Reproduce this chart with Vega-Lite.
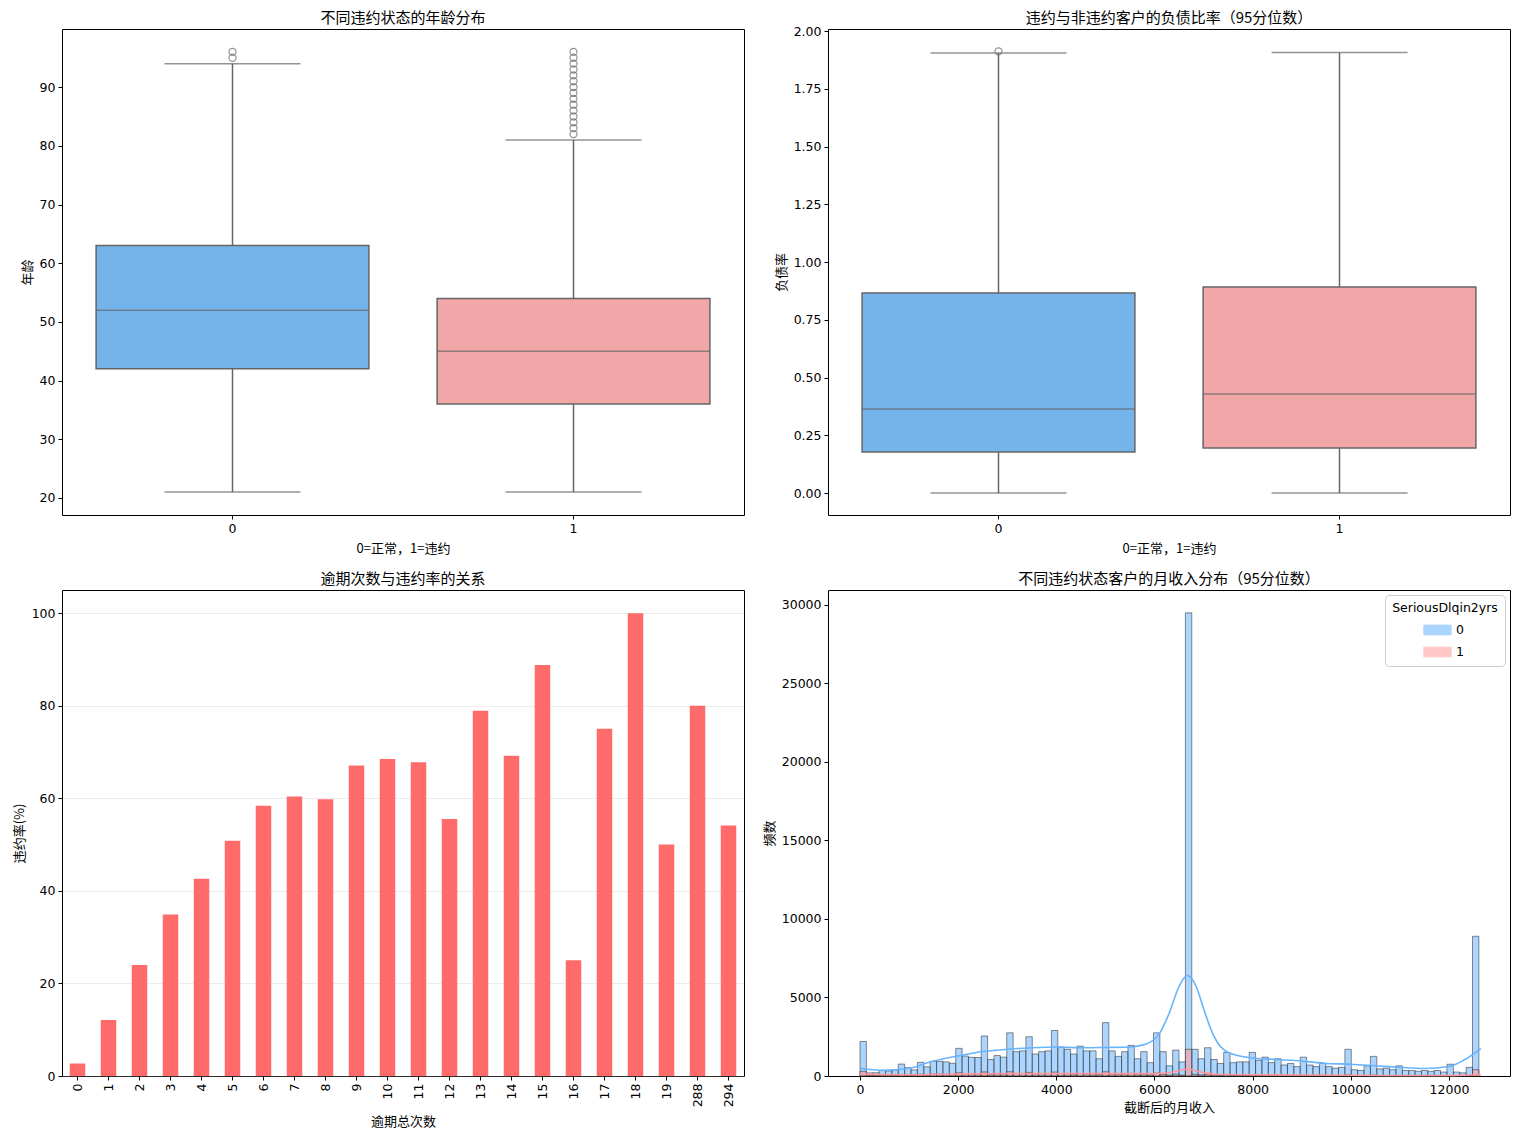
{
  "$schema": "https://vega.github.io/schema/vega-lite/v6.json",
  "padding": {"top": 10, "left": 12, "right": 5, "bottom": 5},
  "background": "white",
  "datasets": {
    "ageBox": [
      {"grp": "0", "lo": 21, "q1": 42, "med": 52, "q3": 63, "hi": 94},
      {"grp": "1", "lo": 21, "q1": 36, "med": 45, "q3": 54, "hi": 81}
    ],
    "ageOut": [
      {"grp": "0", "v": 95}, {"grp": "0", "v": 96},
      {"grp": "1", "v": 82}, {"grp": "1", "v": 83}, {"grp": "1", "v": 84}, {"grp": "1", "v": 85},
      {"grp": "1", "v": 86}, {"grp": "1", "v": 87}, {"grp": "1", "v": 88}, {"grp": "1", "v": 89},
      {"grp": "1", "v": 90}, {"grp": "1", "v": 91}, {"grp": "1", "v": 92}, {"grp": "1", "v": 93},
      {"grp": "1", "v": 94}, {"grp": "1", "v": 95}, {"grp": "1", "v": 96}
    ],
    "debtBox": [
      {"grp": "0", "lo": 0, "q1": 0.177, "med": 0.364, "q3": 0.866, "hi": 1.905},
      {"grp": "1", "lo": 0, "q1": 0.195, "med": 0.429, "q3": 0.892, "hi": 1.907}
    ],
    "debtOut": [
      {"grp": "0", "v": 1.912}
    ],
    "lateRate": [
      {"k": "0", "rate": 2.7}, {"k": "1", "rate": 12.1}, {"k": "2", "rate": 24.0},
      {"k": "3", "rate": 34.9}, {"k": "4", "rate": 42.6}, {"k": "5", "rate": 50.8},
      {"k": "6", "rate": 58.4}, {"k": "7", "rate": 60.4}, {"k": "8", "rate": 59.8},
      {"k": "9", "rate": 67.1}, {"k": "10", "rate": 68.5}, {"k": "11", "rate": 67.8},
      {"k": "12", "rate": 55.5}, {"k": "13", "rate": 78.9}, {"k": "14", "rate": 69.2},
      {"k": "15", "rate": 88.8}, {"k": "16", "rate": 25.0}, {"k": "17", "rate": 75.0},
      {"k": "18", "rate": 100.0}, {"k": "19", "rate": 50.0}, {"k": "288", "rate": 80.0},
      {"k": "294", "rate": 54.1}
    ],
    "incomeHist": [
      {"g": "0", "lo": 0, "hi": 130, "n": 2200}, {"g": "0", "lo": 130, "hi": 260, "n": 200},
      {"g": "0", "lo": 260, "hi": 390, "n": 210}, {"g": "0", "lo": 390, "hi": 520, "n": 360},
      {"g": "0", "lo": 520, "hi": 650, "n": 320}, {"g": "0", "lo": 650, "hi": 780, "n": 390},
      {"g": "0", "lo": 780, "hi": 910, "n": 760}, {"g": "0", "lo": 910, "hi": 1040, "n": 530},
      {"g": "0", "lo": 1040, "hi": 1170, "n": 390}, {"g": "0", "lo": 1170, "hi": 1300, "n": 870},
      {"g": "0", "lo": 1300, "hi": 1430, "n": 590}, {"g": "0", "lo": 1430, "hi": 1560, "n": 935},
      {"g": "0", "lo": 1560, "hi": 1690, "n": 935}, {"g": "0", "lo": 1690, "hi": 1820, "n": 900},
      {"g": "0", "lo": 1820, "hi": 1950, "n": 810}, {"g": "0", "lo": 1950, "hi": 2080, "n": 1760},
      {"g": "0", "lo": 2080, "hi": 2210, "n": 1270}, {"g": "0", "lo": 2210, "hi": 2340, "n": 1190},
      {"g": "0", "lo": 2340, "hi": 2470, "n": 1180}, {"g": "0", "lo": 2470, "hi": 2600, "n": 2550},
      {"g": "0", "lo": 2600, "hi": 2730, "n": 1050}, {"g": "0", "lo": 2730, "hi": 2860, "n": 1300},
      {"g": "0", "lo": 2860, "hi": 2990, "n": 1200}, {"g": "0", "lo": 2990, "hi": 3120, "n": 2750},
      {"g": "0", "lo": 3120, "hi": 3250, "n": 1550}, {"g": "0", "lo": 3250, "hi": 3380, "n": 1600},
      {"g": "0", "lo": 3380, "hi": 3510, "n": 2500}, {"g": "0", "lo": 3510, "hi": 3640, "n": 1400},
      {"g": "0", "lo": 3640, "hi": 3770, "n": 1550}, {"g": "0", "lo": 3770, "hi": 3900, "n": 1600},
      {"g": "0", "lo": 3900, "hi": 4030, "n": 2900}, {"g": "0", "lo": 4030, "hi": 4160, "n": 1850},
      {"g": "0", "lo": 4160, "hi": 4290, "n": 1700}, {"g": "0", "lo": 4290, "hi": 4420, "n": 1400},
      {"g": "0", "lo": 4420, "hi": 4550, "n": 1900}, {"g": "0", "lo": 4550, "hi": 4680, "n": 1600},
      {"g": "0", "lo": 4680, "hi": 4810, "n": 1600}, {"g": "0", "lo": 4810, "hi": 4940, "n": 1100},
      {"g": "0", "lo": 4940, "hi": 5070, "n": 3400}, {"g": "0", "lo": 5070, "hi": 5200, "n": 1600},
      {"g": "0", "lo": 5200, "hi": 5330, "n": 1250}, {"g": "0", "lo": 5330, "hi": 5460, "n": 1550},
      {"g": "0", "lo": 5460, "hi": 5590, "n": 1950}, {"g": "0", "lo": 5590, "hi": 5720, "n": 1100},
      {"g": "0", "lo": 5720, "hi": 5850, "n": 1550}, {"g": "0", "lo": 5850, "hi": 5980, "n": 850},
      {"g": "0", "lo": 5980, "hi": 6110, "n": 2750}, {"g": "0", "lo": 6110, "hi": 6240, "n": 1550},
      {"g": "0", "lo": 6240, "hi": 6370, "n": 650}, {"g": "0", "lo": 6370, "hi": 6500, "n": 1650},
      {"g": "0", "lo": 6500, "hi": 6630, "n": 900}, {"g": "0", "lo": 6630, "hi": 6760, "n": 29500},
      {"g": "0", "lo": 6760, "hi": 6890, "n": 1700}, {"g": "0", "lo": 6890, "hi": 7020, "n": 1100},
      {"g": "0", "lo": 7020, "hi": 7150, "n": 1800}, {"g": "0", "lo": 7150, "hi": 7280, "n": 1050},
      {"g": "0", "lo": 7280, "hi": 7410, "n": 800}, {"g": "0", "lo": 7410, "hi": 7540, "n": 1500},
      {"g": "0", "lo": 7540, "hi": 7670, "n": 850}, {"g": "0", "lo": 7670, "hi": 7800, "n": 900},
      {"g": "0", "lo": 7800, "hi": 7930, "n": 900}, {"g": "0", "lo": 7930, "hi": 8060, "n": 1500},
      {"g": "0", "lo": 8060, "hi": 8190, "n": 1000}, {"g": "0", "lo": 8190, "hi": 8320, "n": 1200},
      {"g": "0", "lo": 8320, "hi": 8450, "n": 850}, {"g": "0", "lo": 8450, "hi": 8580, "n": 1100},
      {"g": "0", "lo": 8580, "hi": 8710, "n": 700}, {"g": "0", "lo": 8710, "hi": 8840, "n": 800},
      {"g": "0", "lo": 8840, "hi": 8970, "n": 600}, {"g": "0", "lo": 8970, "hi": 9100, "n": 1200},
      {"g": "0", "lo": 9100, "hi": 9230, "n": 700}, {"g": "0", "lo": 9230, "hi": 9360, "n": 600},
      {"g": "0", "lo": 9360, "hi": 9490, "n": 800}, {"g": "0", "lo": 9490, "hi": 9620, "n": 600},
      {"g": "0", "lo": 9620, "hi": 9750, "n": 500}, {"g": "0", "lo": 9750, "hi": 9880, "n": 550},
      {"g": "0", "lo": 9880, "hi": 10010, "n": 1700}, {"g": "0", "lo": 10010, "hi": 10140, "n": 400},
      {"g": "0", "lo": 10140, "hi": 10270, "n": 350}, {"g": "0", "lo": 10270, "hi": 10400, "n": 650},
      {"g": "0", "lo": 10400, "hi": 10530, "n": 1250}, {"g": "0", "lo": 10530, "hi": 10660, "n": 450},
      {"g": "0", "lo": 10660, "hi": 10790, "n": 500}, {"g": "0", "lo": 10790, "hi": 10920, "n": 400},
      {"g": "0", "lo": 10920, "hi": 11050, "n": 650}, {"g": "0", "lo": 11050, "hi": 11180, "n": 350},
      {"g": "0", "lo": 11180, "hi": 11310, "n": 350}, {"g": "0", "lo": 11310, "hi": 11440, "n": 300},
      {"g": "0", "lo": 11440, "hi": 11570, "n": 350}, {"g": "0", "lo": 11570, "hi": 11700, "n": 300},
      {"g": "0", "lo": 11700, "hi": 11830, "n": 350}, {"g": "0", "lo": 11830, "hi": 11960, "n": 250},
      {"g": "0", "lo": 11960, "hi": 12090, "n": 750}, {"g": "0", "lo": 12090, "hi": 12220, "n": 250},
      {"g": "0", "lo": 12220, "hi": 12350, "n": 200}, {"g": "0", "lo": 12350, "hi": 12480, "n": 550},
      {"g": "0", "lo": 12480, "hi": 12610, "n": 8900},
      {"g": "1", "lo": 0, "hi": 130, "n": 300}, {"g": "1", "lo": 130, "hi": 260, "n": 30},
      {"g": "1", "lo": 260, "hi": 390, "n": 30}, {"g": "1", "lo": 390, "hi": 520, "n": 50},
      {"g": "1", "lo": 520, "hi": 650, "n": 45}, {"g": "1", "lo": 650, "hi": 780, "n": 55},
      {"g": "1", "lo": 780, "hi": 910, "n": 90}, {"g": "1", "lo": 910, "hi": 1040, "n": 70},
      {"g": "1", "lo": 1040, "hi": 1170, "n": 60}, {"g": "1", "lo": 1170, "hi": 1300, "n": 110},
      {"g": "1", "lo": 1300, "hi": 1430, "n": 80}, {"g": "1", "lo": 1430, "hi": 1560, "n": 120},
      {"g": "1", "lo": 1560, "hi": 1690, "n": 120}, {"g": "1", "lo": 1690, "hi": 1820, "n": 115},
      {"g": "1", "lo": 1820, "hi": 1950, "n": 100}, {"g": "1", "lo": 1950, "hi": 2080, "n": 200},
      {"g": "1", "lo": 2080, "hi": 2210, "n": 150}, {"g": "1", "lo": 2210, "hi": 2340, "n": 140},
      {"g": "1", "lo": 2340, "hi": 2470, "n": 140}, {"g": "1", "lo": 2470, "hi": 2600, "n": 260},
      {"g": "1", "lo": 2600, "hi": 2730, "n": 120}, {"g": "1", "lo": 2730, "hi": 2860, "n": 140},
      {"g": "1", "lo": 2860, "hi": 2990, "n": 130}, {"g": "1", "lo": 2990, "hi": 3120, "n": 270},
      {"g": "1", "lo": 3120, "hi": 3250, "n": 160}, {"g": "1", "lo": 3250, "hi": 3380, "n": 160},
      {"g": "1", "lo": 3380, "hi": 3510, "n": 230}, {"g": "1", "lo": 3510, "hi": 3640, "n": 140},
      {"g": "1", "lo": 3640, "hi": 3770, "n": 150}, {"g": "1", "lo": 3770, "hi": 3900, "n": 150},
      {"g": "1", "lo": 3900, "hi": 4030, "n": 250}, {"g": "1", "lo": 4030, "hi": 4160, "n": 160},
      {"g": "1", "lo": 4160, "hi": 4290, "n": 150}, {"g": "1", "lo": 4290, "hi": 4420, "n": 120},
      {"g": "1", "lo": 4420, "hi": 4550, "n": 160}, {"g": "1", "lo": 4550, "hi": 4680, "n": 130},
      {"g": "1", "lo": 4680, "hi": 4810, "n": 130}, {"g": "1", "lo": 4810, "hi": 4940, "n": 90},
      {"g": "1", "lo": 4940, "hi": 5070, "n": 270}, {"g": "1", "lo": 5070, "hi": 5200, "n": 120},
      {"g": "1", "lo": 5200, "hi": 5330, "n": 100}, {"g": "1", "lo": 5330, "hi": 5460, "n": 120},
      {"g": "1", "lo": 5460, "hi": 5590, "n": 150}, {"g": "1", "lo": 5590, "hi": 5720, "n": 80},
      {"g": "1", "lo": 5720, "hi": 5850, "n": 110}, {"g": "1", "lo": 5850, "hi": 5980, "n": 60},
      {"g": "1", "lo": 5980, "hi": 6110, "n": 190}, {"g": "1", "lo": 6110, "hi": 6240, "n": 110},
      {"g": "1", "lo": 6240, "hi": 6370, "n": 50}, {"g": "1", "lo": 6370, "hi": 6500, "n": 110},
      {"g": "1", "lo": 6500, "hi": 6630, "n": 60}, {"g": "1", "lo": 6630, "hi": 6760, "n": 1700},
      {"g": "1", "lo": 6760, "hi": 6890, "n": 110}, {"g": "1", "lo": 6890, "hi": 7020, "n": 70},
      {"g": "1", "lo": 7020, "hi": 7150, "n": 110}, {"g": "1", "lo": 7150, "hi": 7280, "n": 65},
      {"g": "1", "lo": 7280, "hi": 7410, "n": 50}, {"g": "1", "lo": 7410, "hi": 7540, "n": 90},
      {"g": "1", "lo": 7540, "hi": 7670, "n": 50}, {"g": "1", "lo": 7670, "hi": 7800, "n": 55},
      {"g": "1", "lo": 7800, "hi": 7930, "n": 55}, {"g": "1", "lo": 7930, "hi": 8060, "n": 85},
      {"g": "1", "lo": 8060, "hi": 8190, "n": 55}, {"g": "1", "lo": 8190, "hi": 8320, "n": 65},
      {"g": "1", "lo": 8320, "hi": 8450, "n": 45}, {"g": "1", "lo": 8450, "hi": 8580, "n": 60},
      {"g": "1", "lo": 8580, "hi": 8710, "n": 40}, {"g": "1", "lo": 8710, "hi": 8840, "n": 45},
      {"g": "1", "lo": 8840, "hi": 8970, "n": 35}, {"g": "1", "lo": 8970, "hi": 9100, "n": 60},
      {"g": "1", "lo": 9100, "hi": 9230, "n": 35}, {"g": "1", "lo": 9230, "hi": 9360, "n": 30},
      {"g": "1", "lo": 9360, "hi": 9490, "n": 40}, {"g": "1", "lo": 9490, "hi": 9620, "n": 30},
      {"g": "1", "lo": 9620, "hi": 9750, "n": 25}, {"g": "1", "lo": 9750, "hi": 9880, "n": 28},
      {"g": "1", "lo": 9880, "hi": 10010, "n": 80}, {"g": "1", "lo": 10010, "hi": 10140, "n": 20},
      {"g": "1", "lo": 10140, "hi": 10270, "n": 18}, {"g": "1", "lo": 10270, "hi": 10400, "n": 30},
      {"g": "1", "lo": 10400, "hi": 10530, "n": 55}, {"g": "1", "lo": 10530, "hi": 10660, "n": 20},
      {"g": "1", "lo": 10660, "hi": 10790, "n": 22}, {"g": "1", "lo": 10790, "hi": 10920, "n": 18},
      {"g": "1", "lo": 10920, "hi": 11050, "n": 28}, {"g": "1", "lo": 11050, "hi": 11180, "n": 15},
      {"g": "1", "lo": 11180, "hi": 11310, "n": 15}, {"g": "1", "lo": 11310, "hi": 11440, "n": 13},
      {"g": "1", "lo": 11440, "hi": 11570, "n": 15}, {"g": "1", "lo": 11570, "hi": 11700, "n": 13},
      {"g": "1", "lo": 11700, "hi": 11830, "n": 15}, {"g": "1", "lo": 11830, "hi": 11960, "n": 11},
      {"g": "1", "lo": 11960, "hi": 12090, "n": 30}, {"g": "1", "lo": 12090, "hi": 12220, "n": 10},
      {"g": "1", "lo": 12220, "hi": 12350, "n": 9}, {"g": "1", "lo": 12350, "hi": 12480, "n": 22},
      {"g": "1", "lo": 12480, "hi": 12610, "n": 400}
    ],
    "incomeKde": [
      {"g": "0", "x": 0, "y": 490}, {"g": "0", "x": 470, "y": 360}, {"g": "0", "x": 1000, "y": 490},
      {"g": "0", "x": 1500, "y": 950}, {"g": "0", "x": 2000, "y": 1280}, {"g": "0", "x": 2500, "y": 1560},
      {"g": "0", "x": 3000, "y": 1700}, {"g": "0", "x": 3500, "y": 1800}, {"g": "0", "x": 4000, "y": 1850},
      {"g": "0", "x": 4500, "y": 1800}, {"g": "0", "x": 5000, "y": 1820}, {"g": "0", "x": 5500, "y": 1850},
      {"g": "0", "x": 5800, "y": 2000}, {"g": "0", "x": 6100, "y": 2700}, {"g": "0", "x": 6300, "y": 4000},
      {"g": "0", "x": 6500, "y": 5700}, {"g": "0", "x": 6670, "y": 6400}, {"g": "0", "x": 6850, "y": 5700},
      {"g": "0", "x": 7000, "y": 4300}, {"g": "0", "x": 7200, "y": 2600}, {"g": "0", "x": 7500, "y": 1500},
      {"g": "0", "x": 8000, "y": 1150}, {"g": "0", "x": 8500, "y": 1050}, {"g": "0", "x": 9000, "y": 950},
      {"g": "0", "x": 9500, "y": 800}, {"g": "0", "x": 10000, "y": 750}, {"g": "0", "x": 10500, "y": 650},
      {"g": "0", "x": 11000, "y": 550}, {"g": "0", "x": 11500, "y": 480}, {"g": "0", "x": 12000, "y": 600},
      {"g": "0", "x": 12300, "y": 1000}, {"g": "0", "x": 12650, "y": 1750},
      {"g": "1", "x": 0, "y": 120}, {"g": "1", "x": 1000, "y": 80}, {"g": "1", "x": 2000, "y": 130},
      {"g": "1", "x": 3000, "y": 160}, {"g": "1", "x": 4000, "y": 160}, {"g": "1", "x": 5000, "y": 150},
      {"g": "1", "x": 6000, "y": 150}, {"g": "1", "x": 6400, "y": 260}, {"g": "1", "x": 6670, "y": 450},
      {"g": "1", "x": 6950, "y": 250}, {"g": "1", "x": 7300, "y": 100}, {"g": "1", "x": 8000, "y": 80},
      {"g": "1", "x": 9000, "y": 60}, {"g": "1", "x": 10000, "y": 45}, {"g": "1", "x": 11000, "y": 30},
      {"g": "1", "x": 12000, "y": 35}, {"g": "1", "x": 12650, "y": 80}
    ]
  },
  "spacing": 15,
  "resolve": {"scale": {"fill": "independent", "stroke": "independent"}, "legend": {"fill": "independent", "stroke": "independent"}},
  "vconcat": [
    {
      "bounds": "flush",
      "spacing": 84,
      "resolve": {"scale": {"fill": "independent"}, "legend": {"fill": "independent"}},
      "hconcat": [
        {
          "width": 682,
          "height": 486,
          "title": "不同违约状态的年龄分布",
          "encoding": {
            "x": {
              "field": "grp", "type": "nominal",
              "scale": {"domain": ["0", "1"], "paddingInner": 0.2, "paddingOuter": 0.1},
              "axis": {"title": "0=正常，1=违约", "labelAngle": 0, "titlePadding": 8}
            }
          },
          "layer": [
            {
              "data": {"name": "ageBox"},
              "mark": {"type": "rule", "color": "#666666", "strokeWidth": 1.5},
              "encoding": {
                "y": {"field": "lo", "type": "quantitative",
                  "scale": {"domain": [17.1, 99.9], "nice": false, "zero": false},
                  "axis": {"title": "年龄", "values": [20, 30, 40, 50, 60, 70, 80, 90]}},
                "y2": {"field": "q1"}
              }
            },
            {
              "data": {"name": "ageBox"},
              "mark": {"type": "rule", "color": "#666666", "strokeWidth": 1.5},
              "encoding": {"y": {"field": "q3", "type": "quantitative"}, "y2": {"field": "hi"}}
            },
            {
              "data": {"name": "ageBox"},
              "mark": {"type": "tick", "color": "#666666", "size": 136, "thickness": 1.5},
              "encoding": {"y": {"field": "lo", "type": "quantitative"}}
            },
            {
              "data": {"name": "ageBox"},
              "mark": {"type": "tick", "color": "#666666", "size": 136, "thickness": 1.5},
              "encoding": {"y": {"field": "hi", "type": "quantitative"}}
            },
            {
              "data": {"name": "ageBox"},
              "mark": {"type": "bar", "stroke": "#666666", "strokeWidth": 1.5},
              "encoding": {
                "y": {"field": "q1", "type": "quantitative"},
                "y2": {"field": "q3"},
                "fill": {"field": "grp", "type": "nominal",
                  "scale": {"domain": ["0", "1"], "range": ["#75b3eb", "#f1a7a7"]}, "legend": null}
              }
            },
            {
              "data": {"name": "ageBox"},
              "mark": {"type": "tick", "color": "#666666", "size": 273, "thickness": 1.5},
              "encoding": {"y": {"field": "med", "type": "quantitative"}}
            },
            {
              "data": {"name": "ageOut"},
              "mark": {"type": "point", "shape": "circle", "filled": false, "stroke": "#666666", "strokeWidth": 1.2, "size": 50},
              "encoding": {"y": {"field": "v", "type": "quantitative"}}
            }
          ]
        },
        {
          "width": 682,
          "height": 486,
          "title": {"text": "违约与非违约客户的负债比率（95分位数）", "offset": -1},
          "encoding": {
            "x": {
              "field": "grp", "type": "nominal",
              "scale": {"domain": ["0", "1"], "paddingInner": 0.2, "paddingOuter": 0.1},
              "axis": {"title": "0=正常，1=违约", "labelAngle": 0, "titlePadding": 8}
            }
          },
          "layer": [
            {
              "data": {"name": "debtBox"},
              "mark": {"type": "rule", "color": "#666666", "strokeWidth": 1.5},
              "encoding": {
                "y": {"field": "lo", "type": "quantitative",
                  "scale": {"domain": [-0.0952, 2.0087], "nice": false, "zero": false},
                  "axis": {"title": "负债率", "format": ".2f",
                    "values": [0, 0.25, 0.5, 0.75, 1.0, 1.25, 1.5, 1.75, 2.0]}},
                "y2": {"field": "q1"}
              }
            },
            {
              "data": {"name": "debtBox"},
              "mark": {"type": "rule", "color": "#666666", "strokeWidth": 1.5},
              "encoding": {"y": {"field": "q3", "type": "quantitative"}, "y2": {"field": "hi"}}
            },
            {
              "data": {"name": "debtBox"},
              "mark": {"type": "tick", "color": "#666666", "size": 136, "thickness": 1.5},
              "encoding": {"y": {"field": "lo", "type": "quantitative"}}
            },
            {
              "data": {"name": "debtBox"},
              "mark": {"type": "tick", "color": "#666666", "size": 136, "thickness": 1.5},
              "encoding": {"y": {"field": "hi", "type": "quantitative"}}
            },
            {
              "data": {"name": "debtBox"},
              "mark": {"type": "bar", "stroke": "#666666", "strokeWidth": 1.5},
              "encoding": {
                "y": {"field": "q1", "type": "quantitative"},
                "y2": {"field": "q3"},
                "fill": {"field": "grp", "type": "nominal",
                  "scale": {"domain": ["0", "1"], "range": ["#75b3eb", "#f1a7a7"]}, "legend": null}
              }
            },
            {
              "data": {"name": "debtBox"},
              "mark": {"type": "tick", "color": "#666666", "size": 273, "thickness": 1.5},
              "encoding": {"y": {"field": "med", "type": "quantitative"}}
            },
            {
              "data": {"name": "debtOut"},
              "mark": {"type": "point", "shape": "circle", "filled": false, "stroke": "#666666", "strokeWidth": 1.2, "size": 50},
              "encoding": {"y": {"field": "v", "type": "quantitative"}}
            }
          ]
        }
      ]
    },
    {
      "bounds": "flush",
      "spacing": 84,
      "resolve": {"scale": {"fill": "independent", "stroke": "independent"}, "legend": {"fill": "independent", "stroke": "independent"}},
      "hconcat": [
        {
          "width": 682,
          "height": 486,
          "title": "逾期次数与违约率的关系",
          "data": {"name": "lateRate"},
          "mark": {"type": "bar", "color": "#ff6b6b"},
          "encoding": {
            "x": {"field": "k", "type": "nominal", "sort": null,
              "scale": {"paddingInner": 0.5, "paddingOuter": 0.25},
              "axis": {"title": "逾期总次数", "labelAngle": -90, "titlePadding": 9}},
            "y": {"field": "rate", "type": "quantitative",
              "scale": {"domain": [0, 105], "nice": false},
              "axis": {"title": "违约率(%)", "values": [0, 20, 40, 60, 80, 100],
                "grid": true, "gridColor": "#b0b0b0", "gridOpacity": 0.3, "gridWidth": 0.8}}
          }
        },
        {
          "width": 682,
          "height": 486,
          "title": "不同违约状态客户的月收入分布（95分位数）",
          "layer": [
            {
              "data": {"name": "incomeHist"},
              "mark": {"type": "bar", "fillOpacity": 0.55, "stroke": "#333333", "strokeWidth": 0.7, "strokeOpacity": 0.8},
              "encoding": {
                "x": {"field": "lo", "type": "quantitative",
                  "scale": {"domain": [-652, 13244], "nice": false, "zero": false},
                  "axis": {"title": "截断后的月收入", "values": [0, 2000, 4000, 6000, 8000, 10000, 12000], "format": "d", "titlePadding": 6}},
                "x2": {"field": "hi"},
                "y": {"field": "n", "type": "quantitative",
                  "scale": {"domain": [0, 30955], "nice": false},
                  "axis": {"title": "频数", "values": [0, 5000, 10000, 15000, 20000, 25000, 30000], "format": "d"}},
                "y2": {"datum": 0},
                "fill": {"field": "g", "type": "nominal",
                  "scale": {"domain": ["0", "1"], "range": ["#66b3ff", "#ff9999"]},
                  "legend": {"title": "SeriousDlqin2yrs", "orient": "top-right"}}
              }
            },
            {
              "data": {"name": "incomeKde"},
              "mark": {"type": "line", "strokeWidth": 1.6, "interpolate": "monotone"},
              "encoding": {
                "x": {"field": "x", "type": "quantitative"},
                "y": {"field": "y", "type": "quantitative"},
                "stroke": {"field": "g", "type": "nominal",
                  "scale": {"domain": ["0", "1"], "range": ["#66b3ff", "#ff9999"]}, "legend": null}
              }
            }
          ]
        }
      ]
    }
  ],
  "config": {
    "view": {"stroke": "black", "strokeWidth": 1},
    "axis": {
      "domain": false,
      "grid": false,
      "ticks": true,
      "tickColor": "black",
      "tickSize": 4,
      "labelFont": "DejaVu Sans",
      "labelFontSize": 12.5,
      "labelColor": "black",
      "labelPadding": 3,
      "titleFont": "Noto Sans CJK SC",
      "titleFontSize": 13,
      "titleFontWeight": "normal",
      "titleColor": "black",
      "titlePadding": 5
    },
    "title": {"font": "Noto Sans CJK SC", "fontSize": 15, "fontWeight": "normal", "color": "black", "offset": 3},
    "legend": {
      "titleFont": "DejaVu Sans",
      "titleFontSize": 12.5,
      "titleFontWeight": "normal",
      "titleColor": "black",
      "labelFont": "DejaVu Sans",
      "labelFontSize": 12.5,
      "labelColor": "black",
      "labelOffset": 8,
      "symbolType": "M-1.4,-0.5H1.4V0.5H-1.4Z",
      "symbolSize": 380,
      "symbolOpacity": 0.55,
      "symbolStrokeColor": "#222222",
      "symbolStrokeWidth": 1,
      "rowPadding": 4,
      "fillColor": "white",
      "strokeColor": "#cccccc",
      "cornerRadius": 4,
      "padding": 7,
      "offset": 5,
      "titleAnchor": "middle"
    }
  }
}
